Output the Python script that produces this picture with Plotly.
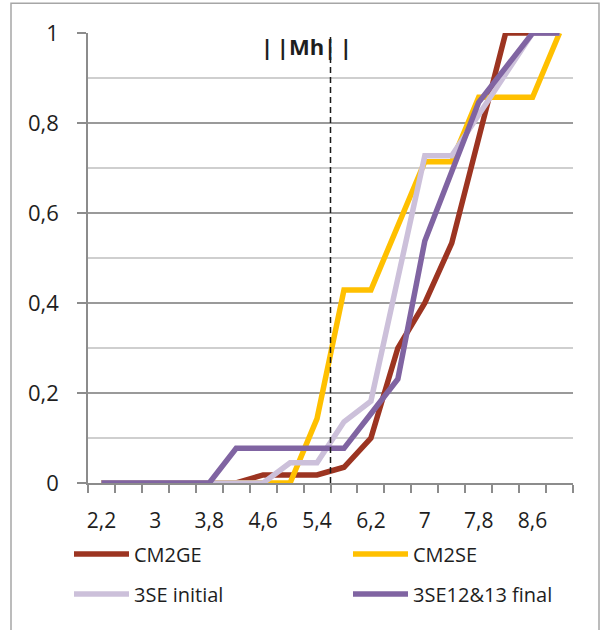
import plotly.graph_objects as go

# ---- data ----
categories = [2.2, 2.6, 3.0, 3.4, 3.8, 4.2, 4.6, 5.0, 5.4, 5.8, 6.2, 6.6, 7.0, 7.4, 7.8, 8.2, 8.6, 9.0]
cm2ge = [0, 0, 0, 0, 0, 0, 0.018, 0.018, 0.018, 0.035, 0.1, 0.3, 0.4, 0.533, 0.767, 1, 1, 1]
cm2se = [0, 0, 0, 0, 0, 0, 0, 0, 0.143, 0.429, 0.429, 0.571, 0.714, 0.714, 0.857, 0.857, 0.857, 1]
se3_initial = [0, 0, 0, 0, 0, 0, 0, 0.045, 0.045, 0.136, 0.182, 0.455, 0.727, 0.727, 0.818, 0.909, 1, 1]
se3_final = [0, 0, 0, 0, 0, 0.077, 0.077, 0.077, 0.077, 0.077, 0.154, 0.231, 0.538, 0.692, 0.846, 0.923, 1, 1]
series_names = ["CM2GE", "CM2SE", "3SE initial", "3SE12&13 final"]
x_tick_values = [2.2, 3.0, 3.8, 4.6, 5.4, 6.2, 7.0, 7.8, 8.6]
x_tick_labels = ["2,2", "3", "3,8", "4,6", "5,4", "6,2", "7", "7,8", "8,6"]
y_tick_values = [0, 0.2, 0.4, 0.6, 0.8, 1]
y_tick_labels = ["0", "0,2", "0,4", "0,6", "0,8", "1"]
mh_value = 5.6
mh_label = "|\u2009|Mh|\u2009|"

# ---- styling ----
colors = ["#9C3421", "#FFC000", "#CCC0DA", "#8064A2"]
legend_ids = ["legend", "legend2", "legend3", "legend4"]
# legend boxes: (left px, row-centre px)
legend_pos = [(69, 554), (348, 554), (69, 594), (348, 594)]
FONT = "Open Sans"
TXT = "#1e1e1e"
AX = "#8c8c8c"
PL, PT, PW, PH = 88, 33, 485, 450

step = categories[1] - categories[0]
boundaries = [round(c - step / 2, 4) for c in categories] + [round(categories[-1] + step / 2, 4)]

fig = go.Figure()
for name, ys, col, lg in zip(series_names, [cm2ge, cm2se, se3_initial, se3_final], colors, legend_ids):
    fig.add_trace(go.Scatter(
        x=categories, y=ys, name=name, mode="lines",
        line=dict(color=col, width=5.5),
        legend=lg,
    ))

legend_layout = {}
for lg, (lx, ly) in zip(legend_ids, legend_pos):
    legend_layout[lg] = dict(
        orientation="h", xanchor="left", yanchor="middle",
        x=(lx - PL) / PW, y=(PT + PH - ly) / PH,
        itemwidth=55,
        font=dict(family=FONT, size=20, color=TXT), bgcolor="rgba(0,0,0,0)")

fig.update_layout(
    width=601, height=630,
    margin=dict(l=PL, r=601 - PL - PW, t=PT, b=630 - PT - PH, pad=0),
    paper_bgcolor="white", plot_bgcolor="white",
    font=dict(family=FONT, color=TXT, size=21),
    showlegend=True,
    **legend_layout,
)

fig.update_xaxes(
    range=[boundaries[0], boundaries[-1]],
    tickmode="array", tickvals=x_tick_values, ticktext=x_tick_labels,
    ticks="", showgrid=False, zeroline=False,
    showline=True, linecolor=AX, linewidth=1.5,
    ticklabelstandoff=18,
    tickfont=dict(family=FONT, size=21, color=TXT),
    minor=dict(tickmode="array", tickvals=boundaries, ticks="outside", ticklen=8,
               tickcolor=AX, tickwidth=1.5, showgrid=False),
)
fig.update_yaxes(
    range=[0, 1],
    tickmode="array", tickvals=y_tick_values, ticktext=y_tick_labels,
    ticks="outside", ticklen=9, tickcolor=AX, tickwidth=1.5,
    showgrid=True, gridcolor="#9a9a9a", gridwidth=1.5,
    zeroline=False, showline=True, linecolor=AX, linewidth=1.5,
    ticklabelstandoff=14,
    tickfont=dict(family=FONT, size=22, color=TXT),
    minor=dict(tickmode="array", tickvals=[0.1, 0.3, 0.5, 0.7, 0.9], showgrid=True,
               gridcolor="#cfcfcf", gridwidth=1.5, ticks=""),
)

# Mh reference line
fig.add_shape(type="line", xref="x", yref="y", x0=mh_value, x1=mh_value, y0=0, y1=1,
              line=dict(color="#1a1a1a", width=1.5, dash="6px,4px"), layer="above")
fig.add_annotation(text="<b>" + mh_label + "</b>", xref="paper", yref="paper",
                   x=(306 - PL) / PW, y=(PT + PH - 46) / PH, xanchor="center", yanchor="middle",
                   showarrow=False, font=dict(family=FONT, size=22, color=TXT))

# outer chart border
fig.add_shape(type="rect", xref="paper", yref="paper",
              x0=(11 - PL) / PW, x1=(599 - PL) / PW, y0=(PT + PH - 640) / PH, y1=(PT + PH - 3.3) / PH,
              line=dict(color="#a6a6a6", width=1.5), fillcolor="rgba(0,0,0,0)", layer="below")

fig.write_html("out.html", config={"displayModeBar": False},
               post_script="document.body.style.margin='0px';document.body.style.overflow='hidden';")
